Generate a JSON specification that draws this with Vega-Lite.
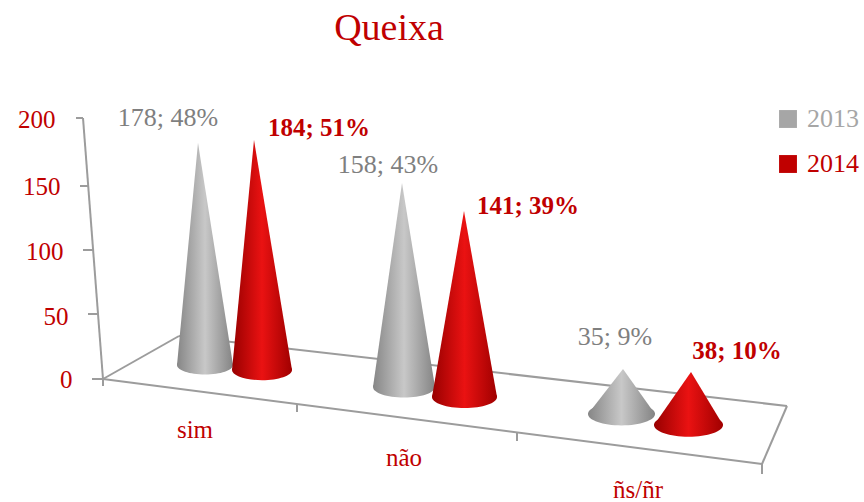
{
"$schema":"https://vega.github.io/schema/vega-lite/v6.json",
"width":784,"height":457,"autosize":"none","padding":{"left":80,"top":45,"right":0,"bottom":0},
"background":"white",
"view":{"stroke":null},
"title":{"text":"Queixa","anchor":"middle","frame":"group","dx":-83,"dy":33,"offset":0,"baseline":"alphabetic","font":"Liberation Serif","fontSize":38,"fontWeight":"normal","color":"#c00000"},
"config":{"font":"Liberation Serif"},
"datasets":{
"cones":[
{"categoria":"sim","ano":"2013","valor":178,"pct":"48%"},
{"categoria":"sim","ano":"2014","valor":184,"pct":"51%"},
{"categoria":"não","ano":"2013","valor":158,"pct":"43%"},
{"categoria":"não","ano":"2014","valor":141,"pct":"39%"},
{"categoria":"ñs/ñr","ano":"2013","valor":35,"pct":"9%"},
{"categoria":"ñs/ñr","ano":"2014","valor":38,"pct":"10%"}
],
"segmentos":[
{"seg":"eixo"},{"seg":"frente"},{"seg":"fundo"},{"seg":"esq"},{"seg":"dir"},
{"seg":"t0"},{"seg":"t50"},{"seg":"t100"},{"seg":"t150"},{"seg":"t200"},
{"seg":"c0"},{"seg":"c1"},{"seg":"c2"},{"seg":"c3"}
],
"categorias":[{"categoria":"sim"},{"categoria":"não"},{"categoria":"ñs/ñr"}]
},
"layer":[
{
"data":{"name":"segmentos"},
"transform":[
{"calculate":"{eixo:[83,118,103,379],frente:[103,379,762,464],fundo:[179,336,787,406],esq:[103,379,179,336],dir:[762,464,787,406],t0:[92,379,103,379],t50:[88,314,98,314],t100:[83,250,93,250],t150:[80,186,88,186],t200:[76,118,83,118],c0:[103,379,103,386],c1:[297,404,297,412],c2:[517,432,517,441],c3:[762,464,762,474]}[datum.seg]","as":"g"},
{"calculate":"datum.g[0]","as":"x1"},
{"calculate":"datum.g[2]","as":"x2"},
{"calculate":"(378-datum.g[1])/1.3","as":"y1"},
{"calculate":"(378-datum.g[3])/1.3","as":"y2"}
],
"mark":{"type":"rule","color":"#9c9c9c","strokeWidth":2},
"encoding":{
"x":{"field":"x1","type":"quantitative","scale":{"domain":[80,864],"nice":false,"zero":false},"axis":null},
"x2":{"field":"x2"},
"y":{"field":"y1","type":"quantitative","scale":{"domain":[-95.385,256.154],"nice":false,"zero":false},
"axis":{"orient":"left","title":null,"values":[0,50,100,150,200],"domain":false,"ticks":false,"grid":false,
"labelFont":"Liberation Serif","labelFontSize":25,"labelColor":"#c00000","labelAlign":"right",
"labelPadding":{"condition":[{"test":"datum.value==200","value":25},{"test":"datum.value==150","value":20},{"test":"datum.value==100","value":17},{"test":"datum.value==50","value":12}],"value":8},
"labelOffset":{"condition":[{"test":"datum.value==200","value":1},{"test":"datum.value==0","value":2}],"value":4},
"labelBaseline":"middle"}},
"y2":{"field":"y2"}
}
},
{
"data":{"name":"cones"},
"transform":[
{"calculate":"indexof(['sim','não','ñs/ñr'],datum.categoria)*2+(datum.ano=='2014'?1:0)","as":"i"},
{"calculate":"[205,262,404,464.5,621.5,688.5][datum.i]","as":"cx"},
{"calculate":"[198,254,402,464,623,691][datum.i]","as":"tipx"},
{"calculate":"[365,370,387,397,414,425][datum.i]","as":"by"},
{"calculate":"[56,60,62,65,67,69][datum.i]","as":"w"},
{"calculate":"[1.247,1.25,1.291,1.319,1.286,1.395][datum.i]","as":"k"},
{"calculate":"(378-datum.by)/1.3","as":"y0"},
{"calculate":"(378-(datum.by-datum.valor*datum.k))/1.3","as":"ytip"},
{"calculate":"datum.w*datum.w","as":"s"},
{"calculate":"[-1,0,1]","as":"p"},
{"flatten":["p"]},
{"calculate":"datum.p==0?datum.tipx:datum.cx+datum.p*datum.w/2","as":"xp"},
{"calculate":"datum.p==0?datum.ytip:datum.y0","as":"yp"},
{"calculate":"[168,319,388,528,615,737][datum.i]","as":"lx"},
{"calculate":"(378-[118,128,165,206,337,351][datum.i])/1.3","as":"ly"},
{"calculate":"datum.valor+'; '+datum.pct","as":"rotulo"}
],
"layer":[
{
"transform":[{"filter":"datum.p==0"}],
"mark":{"type":"point","filled":true,"opacity":1,"strokeWidth":0,"shape":"M-1,0 A1,0.34 0 1,0 1,0 A1,0.34 0 1,0 -1,0 Z"},
"encoding":{
"x":{"field":"cx","type":"quantitative","axis":null},
"y":{"field":"y0","type":"quantitative","title":null},
"size":{"field":"s","type":"quantitative","scale":null,"legend":null},
"fill":{"condition":{"test":"datum.ano=='2013'","value":{"gradient":"linear","x1":0,"y1":0,"x2":1,"y2":0,"stops":[{"offset":0,"color":"#868686"},{"offset":0.5,"color":"#c8c8c8"},{"offset":1,"color":"#848484"}]}},
"value":{"gradient":"linear","x1":0,"y1":0,"x2":1,"y2":0,"stops":[{"offset":0,"color":"#980000"},{"offset":0.5,"color":"#ea1212"},{"offset":1,"color":"#a00000"}]}}
}
},
{
"transform":[{"filter":"datum.ano=='2013'"}],
"mark":{"type":"area","orient":"vertical","opacity":1,"interpolate":"linear","color":{"gradient":"linear","x1":0,"y1":0,"x2":1,"y2":0,"stops":[{"offset":0,"color":"#868686"},{"offset":0.5,"color":"#c8c8c8"},{"offset":1,"color":"#848484"}]}},
"encoding":{
"x":{"field":"xp","type":"quantitative","axis":null},
"y":{"field":"yp","type":"quantitative","title":null,"stack":null},
"y2":{"field":"y0"},
"detail":{"field":"categoria"}
}
},
{
"transform":[{"filter":"datum.ano=='2014'"}],
"mark":{"type":"area","orient":"vertical","opacity":1,"interpolate":"linear","color":{"gradient":"linear","x1":0,"y1":0,"x2":1,"y2":0,"stops":[{"offset":0,"color":"#980000"},{"offset":0.5,"color":"#ea1212"},{"offset":1,"color":"#a00000"}]}},
"encoding":{
"x":{"field":"xp","type":"quantitative","axis":null},
"y":{"field":"yp","type":"quantitative","title":null,"stack":null},
"y2":{"field":"y0"},
"detail":{"field":"categoria"}
}
},
{
"transform":[{"filter":"datum.p==0 && datum.ano=='2013'"}],
"mark":{"type":"text","align":"center","baseline":"middle","fontSize":26,"font":"Liberation Serif","color":"#7f7f7f"},
"encoding":{
"x":{"field":"lx","type":"quantitative","axis":null},
"y":{"field":"ly","type":"quantitative","title":null},
"text":{"field":"rotulo"}
}
},
{
"transform":[{"filter":"datum.p==0 && datum.ano=='2014'"}],
"mark":{"type":"text","align":"center","baseline":"middle","fontSize":25,"font":"Liberation Serif","fontWeight":"bold","color":"#c00000"},
"encoding":{
"x":{"field":"lx","type":"quantitative","axis":null},
"y":{"field":"ly","type":"quantitative","title":null},
"text":{"field":"rotulo"}
}
},
{
"transform":[{"filter":"datum.p==0"}],
"mark":{"type":"point","filled":true,"size":0,"shape":"square"},
"encoding":{
"x":{"field":"cx","type":"quantitative","axis":null},
"y":{"field":"y0","type":"quantitative","title":null},
"color":{"field":"ano","type":"nominal","scale":{"domain":["2013","2014"],"range":["#a6a6a6","#c00000"]},
"legend":{"title":null,"orient":"none","legendX":695,"legendY":61,"symbolType":"square","symbolSize":320,"symbolStrokeWidth":0,"symbolOpacity":1,"labelFont":"Liberation Serif","labelFontSize":26,"labelOffset":6,"rowPadding":19,"labelColor":{"expr":"datum.value=='2013'?'#a6a6a6':'#c00000'"}}}
}
}
]
},
{
"data":{"name":"categorias"},
"transform":[
{"calculate":"indexof(['sim','não','ñs/ñr'],datum.categoria)","as":"c"},
{"calculate":"[195,404,638][datum.c]","as":"lx"},
{"calculate":"(378-[430,458,490][datum.c])/1.3","as":"ly"}
],
"mark":{"type":"text","align":"center","baseline":"middle","fontSize":25,"font":"Liberation Serif","color":"#c00000"},
"encoding":{
"x":{"field":"lx","type":"quantitative","axis":null},
"y":{"field":"ly","type":"quantitative","title":null},
"text":{"field":"categoria"}
}
}
]
}
